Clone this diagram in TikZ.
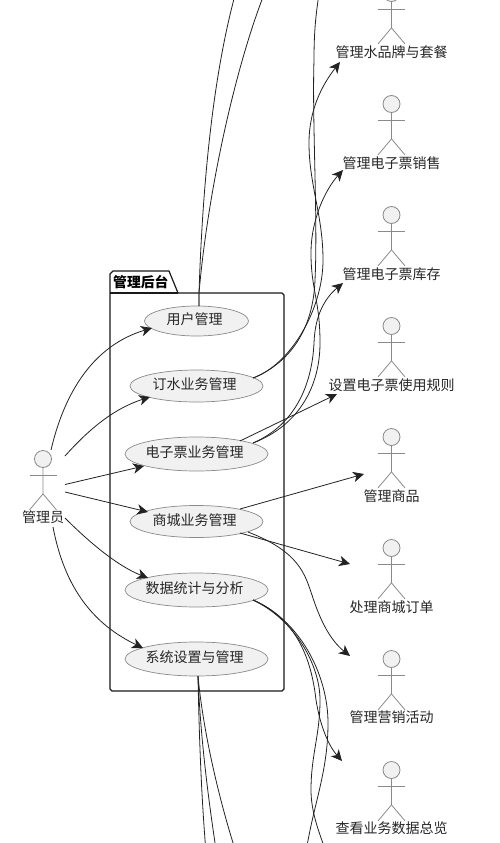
\documentclass[tikz,border=0pt]{standalone}
\usepackage{fontspec}
\setmainfont{Noto Sans CJK SC}
\usetikzlibrary{arrows.meta,shapes.geometric}
\definecolor{ucfill}{HTML}{F1F1F1}
\definecolor{ucline}{HTML}{8A8A8A}
\definecolor{edgecol}{HTML}{222222}
\tikzset{
  uc/.style={shape=ellipse,draw=ucline,fill=ucfill,line width=.7pt,inner sep=0pt,font=\fontsize{14}{16}\selectfont,text=black!85},
  actorline/.style={draw=ucline,line width=.8pt},
  actorlabel/.style={inner sep=0pt,font=\fontsize{14}{16}\selectfont,text=black!85},
  edge/.style={draw=edgecol,line width=.8pt},
  arr/.style={edge,-{Stealth[inset=3.2pt,length=11pt,width=10.5pt]}},
  pkg/.style={draw=black!90,line width=1.2pt,line join=round}
}
\newcommand{\uctext}[1]{\raisebox{-3.5pt}[0pt][0pt]{\makebox[0pt]{\kern-4pt #1}}}
\newcommand{\actorfig}[5]{% name, x, head y, label text, label y
  \node[shape=circle,draw=ucline,fill=ucfill,line width=.8pt,minimum size=17pt,inner sep=0pt] (#1h) at (#2,#3) {};
  \path[actorline] (#1h.south) -- ++(0,26) coordinate (#1hip) -- ++(-13.5,16);
  \path[actorline] (#1hip) -- ++(13.5,16);
  \path[actorline] ([xshift=-13.5pt,yshift=-7.5pt]#1h.south) -- ++(27,0);
  \node[actorlabel] (#1) at (#2,#5) {#4};
}
\begin{document}
\begin{tikzpicture}[x=1pt,y=-1pt]
\useasboundingbox (0,0) rectangle (499,843);
\clip (0,0) rectangle (499,843);
% package
\draw[pkg] (110,293) -- (110,274) -- (113,271) -- (169,271) -- (178,293) -- (282,293) -- (284,295) -- (284,689) -- (282,691) -- (112,691) -- (110,689) -- cycle;
\draw[pkg] (110,293) -- (178,293);
\node[inner sep=0pt,anchor=west,font=\fontsize{13.8}{16}\selectfont\bfseries] (pkgt) at (113,282) {管理后台};
% use cases
\node[uc,minimum width=104pt,minimum height=30pt] (u1) at (196.5,321) {\uctext{用户管理}};
\node[uc,minimum width=133pt,minimum height=32pt] (u2) at (196.5,386) {\uctext{订水业务管理}};
\node[uc,minimum width=143pt,minimum height=34pt] (u3) at (196.5,454) {\uctext{电子票业务管理}};
\node[uc,minimum width=133pt,minimum height=32pt] (u4) at (196.5,521.5) {\uctext{商城业务管理}};
\node[uc,minimum width=143pt,minimum height=34pt] (u5) at (196.5,590) {\uctext{数据统计与分析}};
\node[uc,minimum width=143pt,minimum height=34pt] (u6) at (196.5,659) {\uctext{系统设置与管理}};
% actors
\actorfig{adm}{43}{459}{管理员}{517}
\actorfig{r1}{391.5}{-7}{管理水品牌与套餐}{52}
\actorfig{r2}{391.5}{104}{管理电子票销售}{163}
\actorfig{r3}{391.5}{215}{管理电子票库存}{274}
\actorfig{r4}{391.5}{326}{设置电子票使用规则}{385}
\actorfig{r5}{391.5}{437}{管理商品}{496}
\actorfig{r6}{391.5}{548}{处理商城订单}{607}
\actorfig{r7}{391.5}{659}{管理营销活动}{717}
\actorfig{r8}{391.5}{770}{查看业务数据总览}{828}
% free ends
\coordinate (a1) at (51,450);
\coordinate (a2) at (65,456);
\coordinate (a3) at (65,484.5);
\coordinate (a4) at (65,492);
\coordinate (a5) at (65,518);
\coordinate (a6) at (53,527);
\coordinate (t1) at (234.5,-3);
\coordinate (t2) at (263,-3);
\coordinate (t3) at (318.5,-3);
\coordinate (b1) at (205.5,846);
\coordinate (b2) at (215.5,846);
\coordinate (b3) at (234,846);
\coordinate (b4) at (324,846);
\coordinate (b5) at (307,846);
\coordinate (k1) at (340,62);
\coordinate (k2) at (343,170);
\coordinate (k3) at (343,283);
\coordinate (k4) at (337,394);
\coordinate (k5) at (364,474);
\coordinate (k6) at (350,564);
\coordinate (k7) at (350,656);
\coordinate (k8) at (342,761);
\coordinate (e1) at (152,328);
\coordinate (e2) at (150,397);
\coordinate (e3) at (144,466);
\coordinate (e4) at (148,512);
\coordinate (e5) at (148,578);
\coordinate (e6) at (143,648);
\coordinate (s1) at (199,306);
\coordinate (s2) at (253,378);
\coordinate (s3a) at (253,443);
\coordinate (s3b) at (240,441);
\coordinate (s4a) at (240,509);
\coordinate (s4b) at (240,533);
\coordinate (s4c) at (248,532);
\coordinate (s5) at (253,600);
\coordinate (s6) at (198,676);
% actor edges
\draw[arr] (a1) .. controls (65,390) and (95,345) .. (e1);
\draw[arr] (a2) .. controls (90,428) and (115,408) .. (e2);
\draw[arr] (a3) -- (e3);
\draw[arr] (a4) -- (e4);
\draw[arr] (a5) .. controls (85,538) and (115,565) .. (e5);
\draw[arr] (a6) .. controls (65,590) and (95,625) .. (e6);
% upward from user management
\draw[edge] (s1) -- (199,293) .. controls (203,170) and (215,70) .. (t1);
\draw[edge] (s1) -- (199,293) .. controls (208,190) and (235,70) .. (t2);
% order management
\draw[arr] (s2) .. controls (290,365) and (323,310) .. (323,260) .. controls (323,215) and (309,185) .. (309,143) .. controls (309,110) and (322,85) .. (k1);
\draw[edge] (s2) .. controls (285,365) and (313,335) .. (315,280) .. controls (318,220) and (312,120) .. (314,60) .. controls (314,30) and (316,15) .. (t3);
% ticket management
\draw[arr] (s3a) .. controls (300,425) and (320,385) .. (320,343) .. controls (320,300) and (311,290) .. (311,253) .. controls (311,220) and (325,190) .. (k2);
\draw[arr] (s3a) .. controls (295,425) and (312,385) .. (314,343) .. controls (315,315) and (325,298) .. (k3);
\draw[arr] (s3b) -- (k4);
% shop management
\draw[arr] (s4a) -- (k5);
\draw[arr] (s4b) -- (k6);
\draw[arr] (s4c) .. controls (300,552) and (305,575) .. (312,595) .. controls (320,620) and (330,640) .. (k7);
% statistics
\draw[arr] (s5) .. controls (300,620) and (312,665) .. (316,700) .. controls (320,725) and (328,745) .. (k8);
\draw[edge] (s5) .. controls (295,620) and (320,665) .. (320,700) .. controls (320,735) and (311,755) .. (311,790) .. controls (311,810) and (318,830) .. (b4);
\draw[edge] (s5) .. controls (300,620) and (328,675) .. (328,723) .. controls (328,770) and (315,800) .. (b5);
% system settings
\draw[edge] (s6) .. controls (199,730) and (201,790) .. (b1);
\draw[edge] (s6) .. controls (200,730) and (207,790) .. (b2);
\draw[edge] (s6) .. controls (203,730) and (218,795) .. (b3);
\end{tikzpicture}
\end{document}
